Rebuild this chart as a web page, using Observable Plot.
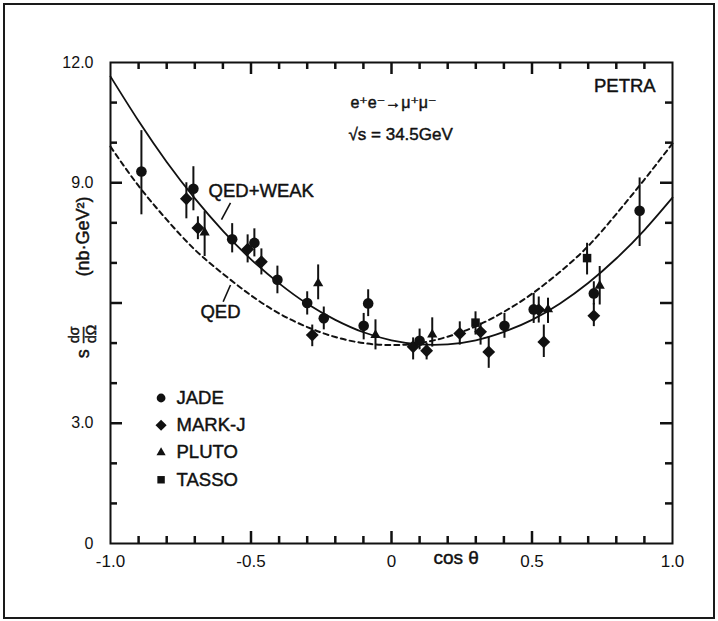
<!DOCTYPE html>
<html><head><meta charset="utf-8">
<script src="https://cdn.jsdelivr.net/npm/d3@7"></script>
<script src="https://cdn.jsdelivr.net/npm/@observablehq/plot@0.6"></script>
<style>
body{margin:0;background:#fff;}
#wrap{position:relative;width:718px;height:621px;overflow:hidden;}
#border{position:absolute;left:3px;top:3px;width:708px;height:612px;border:2px solid #1a1a1a;pointer-events:none;}
</style></head><body><div id="wrap"><div id="border"></div></div>
<script>
// ---- data ----
const experiments = ["JADE", "MARK-J", "PLUTO", "TASSO"];
const expSymbols = ["circle", "diamond2", "triangle", "square"];
const expRadius = [5.3, 5.8, 3.8, 4.8];
const legendRadius = [4.4, 5.0, 3.4, 4.2];

// JADE (circles): cosθ, value, error low, error high
const jadeCos = [-0.89, -0.705, -0.567, -0.488, -0.406, -0.30, -0.241, -0.083, -0.099, 0.10, 0.402, 0.506, 0.72, 0.883];
const jadeVal = [9.28, 8.85, 7.59, 7.50, 6.58, 6.00, 5.62, 5.99, 5.43, 5.06, 5.43, 5.84, 6.24, 8.30];
const jadeLo  = [8.20, 8.30, 7.25, 7.15, 6.23, 5.70, 5.33, 5.66, 5.08, 4.83, 5.12, 5.49, 5.95, 7.41];
const jadeHi  = [10.30, 9.40, 7.98, 7.85, 6.92, 6.28, 5.90, 6.33, 5.74, 5.35, 5.74, 6.24, 6.53, 9.12];

// MARK-J (diamonds)
const markjCos = [-0.73, -0.689, -0.512, -0.463, -0.282, 0.077, 0.125, 0.243, 0.317, 0.346, 0.524, 0.542, 0.72];
const markjVal = [8.60, 7.87, 7.34, 7.03, 5.20, 4.91, 4.81, 5.24, 5.28, 4.78, 5.83, 5.03, 5.68];
const markjLo  = [8.10, 7.58, 7.00, 6.70, 4.91, 4.58, 4.58, 4.95, 4.95, 4.37, 5.50, 4.64, 5.41];
const markjHi  = [9.00, 8.15, 7.70, 7.35, 5.45, 5.13, 5.00, 5.53, 5.50, 5.16, 6.15, 5.45, 5.99];

// PLUTO (triangles)
const plutoCos = [-0.665, -0.261, -0.057, 0.145, 0.557, 0.741];
const plutoVal = [7.76, 6.49, 5.20, 5.21, 5.84, 6.43];
const plutoLo  = [7.16, 6.08, 4.83, 4.90, 5.49, 5.95];
const plutoHi  = [8.28, 6.95, 5.58, 5.63, 6.12, 6.91];

// TASSO (squares)
const tassoCos = [0.299, 0.696];
const tassoVal = [5.51, 7.12];
const tassoLo  = [5.20, 6.70];
const tassoHi  = [5.78, 7.49];

// theory curves read along cosθ
const curveCos  = [-1.0, -0.9, -0.8, -0.7, -0.6, -0.5, -0.4, -0.3, -0.2, -0.1, 0.0, 0.1, 0.2, 0.3, 0.4, 0.5, 0.6, 0.7, 0.8, 0.9, 1.0];
const qedWeakY  = [11.65, 10.54, 9.52, 8.61, 7.80, 7.09, 6.49, 5.98, 5.58, 5.27, 5.07, 4.97, 4.97, 5.07, 5.28, 5.58, 5.99, 6.50, 7.11, 7.82, 8.63];
const qedY      = [9.90, 8.92, 8.08, 7.33, 6.73, 6.19, 5.74, 5.40, 5.15, 5.00, 4.95, 5.00, 5.16, 5.42, 5.78, 6.23, 6.78, 7.42, 8.22, 9.08, 9.98];

// axes
const xTickValues = [-1, -0.5, 0, 0.5, 1];
const xTickLabels = ["-1.0", "-0.5", "0", "0.5", "1.0"];
const yTickValues = [0, 3, 9, 12];
const yTickLabels = ["0", "3.0", "9.0", "12.0"];
const xMajorTicks = [-0.5, 0, 0.5];
const xMinorTicks = [-0.9, -0.8, -0.7, -0.6, -0.4, -0.3, -0.2, -0.1, 0.1, 0.2, 0.3, 0.4, 0.6, 0.7, 0.8, 0.9];
const yMajorTicks = [3, 6, 9];
const yMinorTicks = [1, 2, 4, 5, 7, 8, 10, 11];

// annotations
const startText = ["e⁺e⁻→μ⁺μ⁻", "√s = 34.5GeV", "QED+WEAK", "QED"];
const startX    = [-0.146, -0.153, -0.651, -0.68];
const startY    = [11.0, 10.2, 8.78, 5.78];
const startSize = [16, 17, 18.5, 18.5];
const endText = ["PETRA"];
const endX    = [0.94];
const endY    = [11.4];
const pointerX1 = [-0.573, -0.573];
const pointerY1 = [8.50, 6.45];
const pointerX2 = [-0.605, -0.599];
const pointerY2 = [8.08, 6.03];
const legendMarkX = -0.82, legendTextX = -0.765, legendTopY = 3.63, legendStep = 0.68;

// ---- build table ----
function rows(name, c, v, lo, hi) { return c.map((d, i) => ({exp: name, x: d, y: v[i], lo: lo[i], hi: hi[i]})); }
const points = [
  ...rows("JADE", jadeCos, jadeVal, jadeLo, jadeHi),
  ...rows("MARK-J", markjCos, markjVal, markjLo, markjHi),
  ...rows("PLUTO", plutoCos, plutoVal, plutoLo, plutoHi),
  ...rows("TASSO", tassoCos, tassoVal, tassoLo, tassoHi)
];
const rOf = new Map(experiments.map((d, i) => [d, expRadius[i]]));
const xLab = new Map(xTickValues.map((d, i) => [d, xTickLabels[i]]));
const yLab = new Map(yTickValues.map((d, i) => [d, yTickLabels[i]]));
const font = '"Liberation Sans", Arial, "DejaVu Sans", sans-serif';
const ink = "#111";

const W = 718, H = 621, mL = 110, mR = 46, mT = 62, mB = 78;
const xDom = [-1, 1], yDom = [0, 12];
const plotW = W - mL - mR, plotH = H - mT - mB;
// tick lengths (px) converted into scale units
const minorLen = 7, majorLen = 12;
const xPerPx = (xDom[1] - xDom[0]) / plotW, yPerPx = (yDom[1] - yDom[0]) / plotH;
const txt = {fill: ink, stroke: ink, strokeWidth: 0.45};
const tk = {stroke: ink, strokeWidth: 2.5};

const chart = Plot.plot({
  width: W, height: H,
  marginLeft: mL, marginRight: mR, marginTop: mT, marginBottom: mB,
  x: {domain: xDom},
  y: {domain: yDom},
  r: {type: "identity"},
  symbol: {domain: experiments, range: expSymbols},
  style: {fontFamily: font, fontSize: "16px", background: "white", color: ink},
  marks: [
    // theory curves
    Plot.line(curveCos, {x: d => d, y: (d, i) => qedY[i], curve: "natural", stroke: ink, strokeWidth: 2, strokeDasharray: "5,4"}),
    Plot.line(curveCos, {x: d => d, y: (d, i) => qedWeakY[i], curve: "natural", stroke: ink, strokeWidth: 1.8}),
    // error bars and points
    Plot.ruleX(points, {x: "x", y1: "lo", y2: "hi", stroke: ink, strokeWidth: 2}),
    Plot.dot(points, {x: "x", y: "y", symbol: "exp", r: d => rOf.get(d.exp), fill: ink, stroke: "none"}),
    // frame and inward ticks on all four sides
    Plot.frame({stroke: ink, strokeWidth: 2}),
    Plot.ruleX(xMinorTicks, {x: d => d, y1: yDom[0], y2: yDom[0] + minorLen * yPerPx, ...tk}),
    Plot.ruleX(xMajorTicks, {x: d => d, y1: yDom[0], y2: yDom[0] + majorLen * yPerPx, ...tk}),
    Plot.ruleX(xMinorTicks, {x: d => d, y1: yDom[1], y2: yDom[1] - minorLen * yPerPx, ...tk}),
    Plot.ruleX(xMajorTicks, {x: d => d, y1: yDom[1], y2: yDom[1] - majorLen * yPerPx, ...tk}),
    Plot.ruleY(yMinorTicks, {y: d => d, x1: xDom[0], x2: xDom[0] + minorLen * xPerPx, ...tk}),
    Plot.ruleY(yMajorTicks, {y: d => d, x1: xDom[0], x2: xDom[0] + majorLen * xPerPx, ...tk}),
    Plot.ruleY(yMinorTicks, {y: d => d, x1: xDom[1], x2: xDom[1] - minorLen * xPerPx, ...tk}),
    Plot.ruleY(yMajorTicks, {y: d => d, x1: xDom[1], x2: xDom[1] - majorLen * xPerPx, ...tk}),
    // tick labels
    Plot.axisX(xTickValues, {anchor: "bottom", tickSize: 0, tickPadding: 11, tickFormat: d => xLab.get(d), label: null, fontSize: 17, ...txt}),
    Plot.axisY(yTickValues, {anchor: "left", tickSize: 0, tickPadding: 17, tickFormat: d => yLab.get(d), label: null, fontSize: 16, ...txt}),
    Plot.text(["cos θ"], {x: 0.23, frameAnchor: "bottom", dy: 20, fontSize: 19, ...txt}),
    // y axis label (rotated)
    Plot.text(["s"], {frameAnchor: "left", y: 4.62, dx: -27, rotate: -90, fontSize: 18, ...txt}),
    Plot.text(["dσ"], {frameAnchor: "left", y: 5.0, dx: -36, rotate: -90, fontSize: 14, ...txt}),
    Plot.text(["dΩ"], {frameAnchor: "left", y: 5.0, dx: -19, rotate: -90, fontSize: 14, ...txt}),
    Plot.text(["—"], {frameAnchor: "left", y: 5.0, dx: -28, rotate: -90, fontSize: 16, ...txt}),
    Plot.text(["(nb·GeV²)"], {frameAnchor: "left", y: 6.66, dx: -27, rotate: -90, fontSize: 18, ...txt}),
    // annotations
    Plot.text(startText, {x: (d, i) => startX[i], y: (d, i) => startY[i], text: d => d, fontSize: (d, i) => startSize[i], textAnchor: "start", ...txt}),
    Plot.text(endText, {x: (d, i) => endX[i], y: (d, i) => endY[i], text: d => d, fontSize: 18.5, textAnchor: "end", ...txt}),
    Plot.link(pointerX1, {x1: d => d, y1: (d, i) => pointerY1[i], x2: (d, i) => pointerX2[i], y2: (d, i) => pointerY2[i], stroke: ink, strokeWidth: 1.6}),
    // legend
    Plot.dot(experiments, {x: legendMarkX, y: (d, i) => legendTopY - i * legendStep, symbol: d => d, r: (d, i) => legendRadius[i], fill: ink, stroke: "none"}),
    Plot.text(experiments, {x: legendTextX, y: (d, i) => legendTopY - i * legendStep, text: d => d, textAnchor: "start", fontSize: 18.5, ...txt})
  ]
});
document.getElementById("wrap").prepend(chart);
</script>
</body></html>
